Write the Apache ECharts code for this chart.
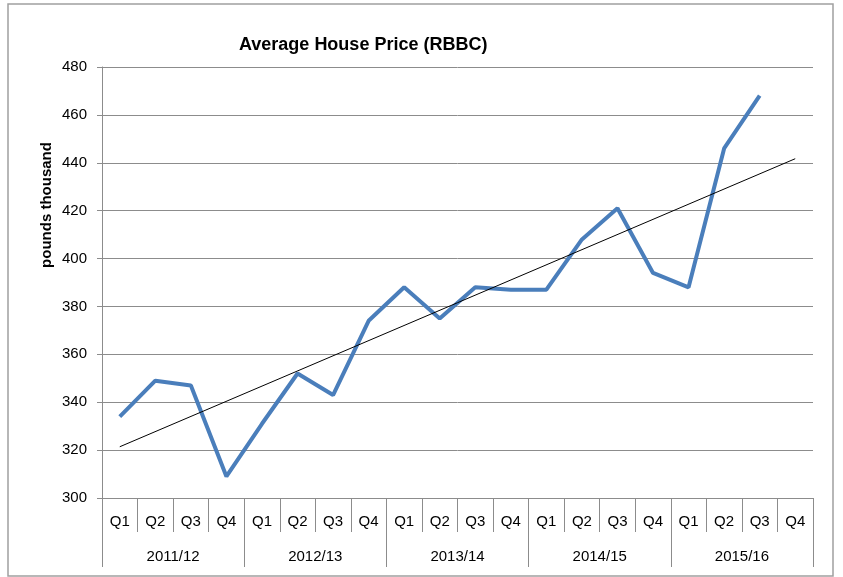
<!DOCTYPE html>
<html>
<head>
<meta charset="utf-8">
<title>Average House Price (RBBC)</title>
<script src="https://cdn.jsdelivr.net/npm/echarts@6/dist/echarts.min.js"></script>
<style>
  html, body { margin: 0; padding: 0; background: #fff; }
  #mycharts { width: 843px; height: 577px; }
</style>
</head>
<body>
<div id="mycharts"></div>
<script>
// quarters (lower row) and financial years (upper row)
var quarters = ["Q1", "Q2", "Q3", "Q4", "Q1", "Q2", "Q3", "Q4", "Q1", "Q2",
                "Q3", "Q4", "Q1", "Q2", "Q3", "Q4", "Q1", "Q2", "Q3", "Q4"];
var years = ["2011/12", "2012/13", "2013/14", "2014/15", "2015/16"];

// average price, pounds thousand (last quarter not yet reported)
var prices = [334, 349, 347, 309, 331, 352, 343, 374, 388, 375,
              388, 387, 387, 408, 421, 394, 388, 446, 468, null];

// linear trend line, read at first and last quarter
var trend = [321.4, null, null, null, null, null, null, null, null, null,
             null, null, null, null, null, null, null, null, null, 441.7];

var yTicks = { min: 300, max: 480, step: 20 };

var font = "Liberation Sans";
var gray = "#8c8c8c";

var mycharts = echarts.init(document.getElementById("mycharts"));

var option = {
  animation: false,
  textStyle: { fontFamily: font },
  title: {
    text: "Average House Price (RBBC)",
    left: 234,
    top: 31,
    textStyle: { fontFamily: font, fontSize: 18, fontWeight: "bold", color: "#000" }
  },
  grid: { left: 102, right: 30, top: 67, bottom: 79 },
  xAxis: [
    {
      type: "category",
      position: "bottom",
      data: quarters,
      boundaryGap: true,
      axisLine: { show: true, lineStyle: { color: gray, width: 1 } },
      axisTick: { show: true, length: 34, lineStyle: { color: gray } },
      axisLabel: { interval: 0, margin: 16, fontSize: 15, color: "#000", fontFamily: font }
    },
    {
      type: "category",
      position: "bottom",
      data: years,
      boundaryGap: true,
      axisLine: { show: false },
      axisTick: { show: true, length: 69, lineStyle: { color: gray } },
      axisLabel: { interval: 0, margin: 51, fontSize: 15, color: "#000", fontFamily: font }
    }
  ],
  yAxis: {
    type: "value",
    min: yTicks.min,
    max: yTicks.max,
    interval: yTicks.step,
    axisLine: { show: true, lineStyle: { color: gray } },
    axisTick: { show: true, length: 5, lineStyle: { color: gray } },
    axisLabel: { margin: 15, fontSize: 15, color: "#000", fontFamily: font },
    splitLine: { lineStyle: { color: gray, width: 1 } }
  },
  graphic: [
    {
      type: "rect",
      shape: { x: 8, y: 4, width: 825, height: 572 },
      style: { fill: "none", stroke: "#a0a0a0", lineWidth: 1.5 },
      silent: true
    },
    {
      type: "text",
      x: 47,
      y: 205,
      rotation: Math.PI / 2,
      style: {
        text: "pounds thousand",
        fontFamily: font,
        fontSize: 15,
        fontWeight: "bold",
        fill: "#000",
        align: "center",
        verticalAlign: "middle"
      }
    }
  ],
  series: [
    {
      name: "Average price",
      type: "line",
      xAxisIndex: 0,
      data: prices,
      symbol: "none",
      lineStyle: { color: "#4a7ebb", width: 4 },
      z: 3
    },
    {
      name: "Linear trend",
      type: "line",
      xAxisIndex: 0,
      data: trend,
      connectNulls: true,
      symbol: "none",
      lineStyle: { color: "#000", width: 1 },
      z: 4
    }
  ]
};
mycharts.setOption(option);
</script>
</body>
</html>
